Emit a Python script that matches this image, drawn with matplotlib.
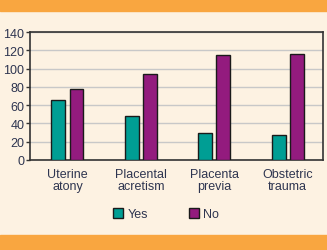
import matplotlib
matplotlib.use("Agg")
import matplotlib.pyplot as plt
from matplotlib.patches import Rectangle
import numpy as np

categories = ["Uterine\natony", "Placental\nacretism", "Placenta\nprevia", "Obstetric\ntrauma"]
yes_values = [66, 48, 30, 27]
no_values = [78, 94, 115, 116]
series_names = ["Yes", "No"]
yticks = [0, 20, 40, 60, 80, 100, 120, 140]

W, H = 327, 251
bg = "#FDF2E2"
orange = "#F9A640"
teal = "#009E94"
purple = "#931B7E"
textc = "#2E3550"

plt.rcParams['font.family'] = ['Liberation Sans', 'DejaVu Sans']
fig = plt.figure(figsize=(W/100, H/100), dpi=100, facecolor=bg)
fig.patches.append(Rectangle((0, 1 - 12/H), 1, 12/H, transform=fig.transFigure, color=orange, zorder=0))
fig.patches.append(Rectangle((0, 0), 1, 15/H, transform=fig.transFigure, color=orange, zorder=0))

ax = fig.add_axes([30/W, (H-161)/H, (323-30)/W, (161-33)/H])
ax.set_facecolor(bg)
x = np.arange(len(categories))
w = 0.19
off = 0.123
ax.bar(x - off, yes_values, w, color=teal, edgecolor="#1a1a1a", linewidth=1.0, zorder=3, label=series_names[0])
ax.bar(x + off, no_values, w, color=purple, edgecolor="#1a1a1a", linewidth=1.0, zorder=3, label=series_names[1])
ax.set_xlim(-0.51, 3.48)
ax.set_ylim(0, 140)
ax.set_yticks(yticks)
ax.yaxis.grid(True, color="#C8C8C8", linewidth=1.0, zorder=0)
ax.set_axisbelow(True)
ax.set_xticks(x)
ax.set_xticklabels(categories, fontsize=9, color=textc, linespacing=1.0)
ax.tick_params(axis='x', length=0, pad=6)
ax.tick_params(axis='y', length=3, width=1, color="#333333", labelsize=9, labelcolor=textc, pad=1)
for s in ax.spines.values():
    s.set_color("#333333")
    s.set_linewidth(1.2)

leg = fig.legend(loc="center", bbox_to_anchor=(166/W, (H-215)/H), ncol=2, frameon=False,
                 fontsize=9, handlelength=0.8, handleheight=0.8, columnspacing=3.3, handletextpad=0.3)
for t in leg.get_texts():
    t.set_color(textc)

fig.savefig("out.png", dpi=100, facecolor=bg)
